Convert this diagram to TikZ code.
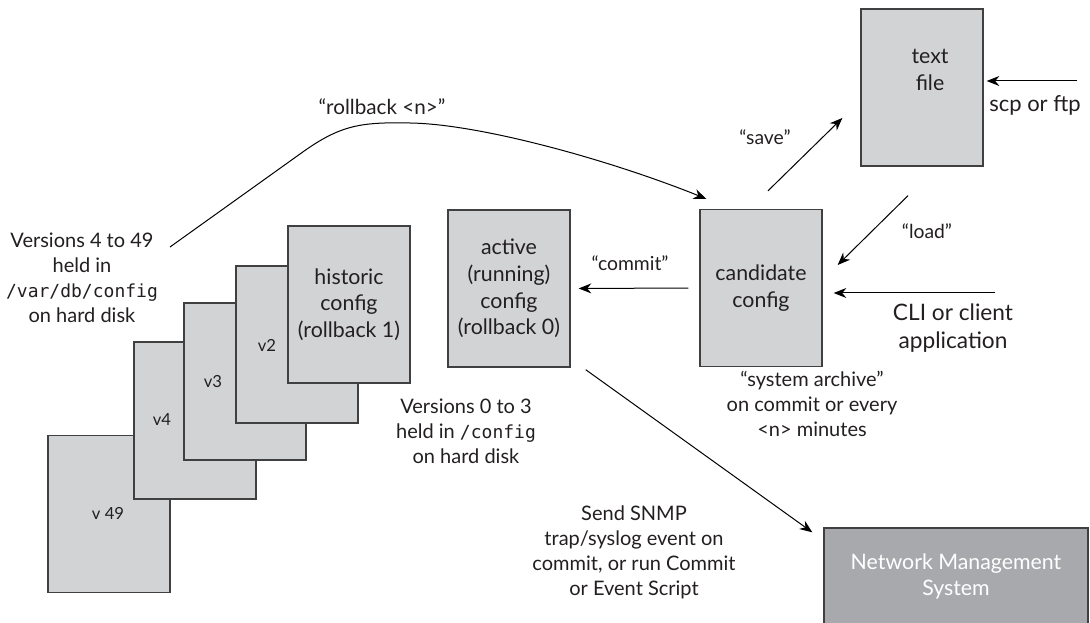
\documentclass[tikz,border=0pt]{standalone}
\usepackage{fontspec}
\setmainfont{Lato}
\setmonofont{DejaVu Sans Mono}
\usetikzlibrary{arrows.meta}
\definecolor{boxgray}{HTML}{D1D3D4}
\definecolor{boxline}{HTML}{404041}
\definecolor{nmsgray}{HTML}{A7A9AC}
\definecolor{ink}{HTML}{231F20}

\begin{document}
\begin{tikzpicture}[x=0.75pt, y=-0.75pt,
  cfg/.style={draw=boxline, fill=boxgray, line width=1pt, minimum width=91.5pt,
    minimum height=117.75pt, inner sep=0pt, align=center, text=ink,
    font=\fontsize{16}{20}\selectfont},
  txt/.style={align=center, text=ink, inner sep=0pt, font=\fontsize{15}{18.75}\selectfont},
  lbl/.style={text=ink, inner sep=0pt, font=\fontsize{14.5}{18}\selectfont},
  vlbl/.style={text=ink, inner sep=0pt, font=\fontsize{12.5}{15}\selectfont},
  arr/.style={-{Stealth[length=9.5pt, width=7.5pt]}, line width=0.75pt}]
  \path[use as bounding box, clip] (0,0) rectangle (1090,623);
  % Old versions, back to front
  \node[cfg] (v49) at (109,514) {};
  \node[cfg] (v4) at (195,420.5) {};
  \node[cfg] (v3) at (245,381.5) {};
  \node[cfg] (v2) at (297,344.5) {};
  \node[cfg] (hist) at (349,304.5) {historic\\config\\(rollback 1)};
  \node[vlbl] (v49lbl) at (108,513) {v 49};
  \node[vlbl] (v4lbl) at (162,420) {v4};
  \node[vlbl] (v3lbl) at (213,382) {v3};
  \node[vlbl] (v2lbl) at (267,345) {v2};
  % Current configs
  \node[cfg] (active) at (509,288.5) {active\\(running)\\config\\(rollback 0)};
  \node[cfg] (cand) at (761,288) {candidate\\config};
  \node[cfg] (textfile) at (922,87.5) {};
  \node[cfg, draw=none, fill=none] (textfiletxt) at (930,70) {text\\file};
  \node[cfg, fill=nmsgray, text=white, minimum width=198pt, minimum height=72.75pt,
    font=\fontsize{16}{20}\selectfont] (nms) at (956,576.5) {Network Management\\System};
  % Notes
  \node[txt] (oldnote) at (82,278) {Versions 4 to 49\\held in\\
    {\ttfamily\fontsize{13.5}{18}\selectfont /var/db/config}\\on hard disk};
  \node[txt] (newnote) at (466,431) {Versions 0 to 3\\held in
    {\ttfamily\fontsize{13.5}{18}\selectfont /config}\\on hard disk};
  \node[txt] (archnote) at (812,404) {“system archive”\\on commit or every\\<n> minutes};
  \node[txt] (snmpnote) at (634,552) {Send SNMP\\trap/syslog event on\\commit, or run Commit\\or Event Script};
  \node[txt, font=\fontsize{16.5}{20}\selectfont] (scpnote) at (1035,105) {scp or ftp};
  \node[txt, font=\fontsize{17}{21}\selectfont] (clinote) at (953,328) {CLI or client\\application};
  \node[lbl, font=\fontsize{15.5}{18}\selectfont] (rblbl) at (382,107) {“rollback <n>”};
  \node[lbl] (commitlbl) at (630,263) {“commit”};
  \node[lbl] (savelbl) at (765,137) {“save”};
  \node[lbl] (loadlbl) at (927,231) {“load”};
  \coordinate (rbstart) at (170,247);
  \coordinate (scpstart) at (1077,81);
  \coordinate (clistart) at (995,293);
  % Arrows
  \draw[arr] (rbstart) -- (300,154) .. controls (340,125) and (360,122) .. (410,123)
    .. controls (480,124) and (610,160) .. ([shift={(7,-10)}]cand.north west);
  \draw[arr, shorten <=8.25pt, shorten >=6pt] (cand.west) -- (active.east);
  \draw[arr] ([shift={(7,-18)}]cand.north) -- ([shift={(-18,30.5)}]textfile.west);
  \draw[arr] ([shift={(-14,29)}]textfile.south) -- ([shift={(15,-23)}]cand.east);
  \draw[arr] (scpstart) -- ([shift={(3,-6.5)}]textfile.east);
  \draw[arr] (clistart) -- ([shift={(11,5)}]cand.east);
  \draw[arr] ([shift={(15,2)}]active.south east) -- ([shift={(-11,5)}]nms.north west);
\end{tikzpicture}
\end{document}
